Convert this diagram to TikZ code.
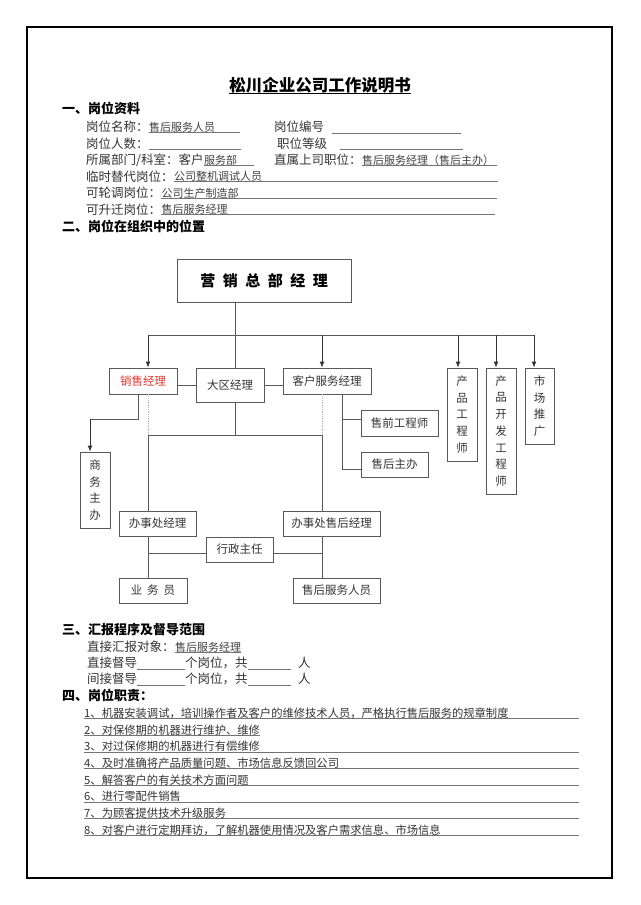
\documentclass[tikz,border=0pt]{standalone}
\usepackage{fontspec}
\setmainfont{Noto Sans CJK SC}
\usetikzlibrary{positioning,arrows.meta}
\definecolor{salesred}{RGB}{226,52,45}
\newcommand{\ttlfont}{\fontsize{16.5}{18}\selectfont\bfseries}
\newcommand{\hfont}{\fontsize{13}{15}\selectfont\bfseries}
\newcommand{\lblfont}{\fontsize{12.5}{14}\selectfont}
\newcommand{\valfont}{\fontsize{11}{13}\selectfont}
\newcommand{\dutyfont}{\fontsize{11.3}{13}\selectfont}
\newcommand{\boxfont}{\fontsize{11.5}{13}\selectfont}
\newcommand{\vboxfont}{\fontsize{11.5}{16.7}\selectfont}
\newcommand{\topfont}{\fontsize{15}{17}\selectfont\bfseries}
\tikzset{
	box/.style={draw=black!65, line width=0.8pt, inner sep=0pt, font=\boxfont, text=black!80},
	vbox/.style={box, align=center, font=\vboxfont},
	lbl/.style={anchor=west, inner sep=0pt, font=\lblfont, text=black!80},
	val/.style={inner sep=0pt, font=\valfont, text=black!75},
	hd/.style={anchor=west, inner sep=0pt, font=\hfont},
	duty/.style={anchor=west, inner sep=0pt, font=\dutyfont, text=black!80},
	uline/.style={draw=black!55, line width=0.7pt},
	conn/.style={draw=black!65, line width=0.9pt},
	arr/.style={draw=black!80, line width=0.9pt, -{Latex[length=6pt,width=5pt]}},
	faint/.style={draw=black!30, line width=0.8pt, densely dotted}
}
\begin{document}
\begin{tikzpicture}[x=1pt, y=-1pt]
	\useasboundingbox (0,0) rectangle (640,905);
	\draw[draw=black, line width=2pt] (27,27) rectangle (612,878);
	\node[inner sep=0pt, font=\ttlfont] (ttl) at (320,85) {松川企业公司工作说明书};
	\draw[draw=black, line width=1.2pt] (ttl.south west) -- (ttl.south east);
	\node[hd] (h1) at (62,108) {一、岗位资料};
	\node[lbl] (r1a) at (86,127) {岗位名称：};
	\node[val, right=0pt of r1a] (r1v) {售后服务人员};
	\node[lbl] (r1b) at (274,127) {岗位编号};
	\draw[uline] (r1v.south west) -- (r1v.south west -| 240,0);
	\draw[uline] (r1b.south -| 332,0) -- (r1b.south -| 461,0);
	\node[lbl] (r2a) at (86,143.5) {岗位人数：};
	\node[lbl] (r2b) at (277,143.5) {职位等级};
	\draw[uline] (r2a.south east) -- (r2a.south east -| 241,0);
	\draw[uline] (r2b.south -| 340,0) -- (r2b.south -| 463,0);
	\node[lbl] (r3a) at (86,160) {所属部门/科室：客户};
	\node[val, right=0pt of r3a] (r3v) {服务部};
	\draw[uline] (r3v.south west) -- (r3v.south west -| 254,0);
	\node[lbl] (r3b) at (274,160) {直属上司职位：};
	\node[val, right=0pt of r3b] (r3w) {售后服务经理（售后主办）};
	\draw[uline] (r3w.south west) -- (r3w.south west -| 497,0);
	\node[lbl] (r4a) at (86,176.5) {临时替代岗位：};
	\node[val, right=0pt of r4a] (r4v) {公司整机调试人员};
	\draw[uline] (r4v.south west) -- (r4v.south west -| 498,0);
	\node[lbl] (r5a) at (86,193) {可轮调岗位：};
	\node[val, right=0pt of r5a] (r5v) {公司生产制造部};
	\draw[uline] (r5v.south west) -- (r5v.south west -| 497,0);
	\node[lbl] (r6a) at (86,209.5) {可升迁岗位：};
	\node[val, right=0pt of r6a] (r6v) {售后服务经理};
	\draw[uline] (r6v.south west) -- (r6v.south west -| 495,0);
	\node[hd] (h2) at (62,226) {二、岗位在组织中的位置};
	\node[box, font=\topfont, text=black, minimum width=174, minimum height=43] (top) at (264,280.5) {营\hspace{.5em}销\hspace{.5em}总\hspace{.5em}部\hspace{.5em}经\hspace{.5em}理};
	\node[box, text=salesred, minimum width=68, minimum height=26] (xs) at (143,381) {销售经理};
	\node[box, minimum width=68, minimum height=34] (dq) at (230,385) {大区经理};
	\node[box, minimum width=88, minimum height=26] (kf) at (327,381) {客户服务经理};
	\node[vbox, minimum width=30, minimum height=93] (cpgc) at (462,414.5) {产\\品\\工\\程\\师};
	\node[vbox, minimum width=30, minimum height=126] (cpkf) at (501,431) {产\\品\\开\\发\\工\\程\\师};
	\node[vbox, minimum width=29, minimum height=76] (sctg) at (539.5,406) {市\\场\\推\\广};
	\node[vbox, minimum width=30, minimum height=76] (swzb) at (95,490) {商\\务\\主\\办};
	\node[box, minimum width=77, minimum height=26] (sqgc) at (399.5,423) {售前工程师};
	\node[box, minimum width=67, minimum height=25] (shzb) at (394.5,464.5) {售后主办};
	\node[box, minimum width=77, minimum height=25] (bsc) at (157.5,523.5) {办事处经理};
	\node[box, minimum width=97, minimum height=25] (bsh) at (331.5,523.5) {办事处售后经理};
	\node[box, minimum width=67, minimum height=25] (xz) at (239.5,549.5) {行政主任};
	\node[box, minimum width=68, minimum height=25] (ywy) at (153,590.5) {业\hspace{5pt}务\hspace{5pt}员};
	\node[box, minimum width=87, minimum height=25] (shry) at (336.5,590.5) {售后服务人员};
	\coordinate (bT) at (235,335);
	\coordinate (bL) at (148,335);
	\coordinate (bR) at (534,335);
	\draw[conn] (bT |- top.south) -- (bT |- dq.north);
	\draw[conn] (bL) -- (bR);
	\foreach \x/\t in {148/xs,322/kf,458/cpgc,496/cpkf,534/sctg}
		\draw[arr] (\x,335) -- (\x,335 |- \t.north);
	\draw[conn] (xs.east |- 0,385) -- (dq.west |- 0,385);
	\draw[conn] (dq.east |- 0,385) -- (kf.west |- 0,385);
	\coordinate (sA) at (138,419);
	\coordinate (sB) at (90,419);
	\draw[conn] (sA |- xs.south) -- (sA) -- (sB);
	\draw[arr] (sB) -- (sB |- swzb.north);
	\coordinate (mL) at (148,435);
	\coordinate (mC) at (235,435);
	\coordinate (mR) at (322,435);
	\draw[faint] (mL |- xs.south) -- (mL);
	\draw[faint] (mR |- kf.south) -- (mR);
	\draw[conn] (bT |- dq.south) -- (mC);
	\draw[conn] (mL) -- (mR);
	\draw[conn] (mL) -- (mL |- bsc.north);
	\draw[conn] (mR) -- (mR |- bsh.north);
	\coordinate (kA) at (342,419);
	\coordinate (kB) at (342,469);
	\draw[conn] (kA |- kf.south) -- (kB) -- (shzb.west |- kB);
	\draw[conn] (kA) -- (sqgc.west |- kA);
	\coordinate (lL) at (148,553);
	\coordinate (lR) at (322,553);
	\draw[conn] (mL |- bsc.south) -- (mL |- ywy.north);
	\draw[conn] (mR |- bsh.south) -- (mR |- shry.north);
	\draw[conn] (lL) -- (xz.west |- lL);
	\draw[conn] (xz.east |- lR) -- (lR);
	\node[hd] (h3) at (62,630) {三、汇报程序及督导范围};
	\node[lbl] (s1) at (87,647) {直接汇报对象：};
	\node[val, right=0pt of s1] (s1v) {售后服务经理};
	\draw[uline] (s1v.south west) -- (s1v.south east);
	\node[lbl] (s2) at (87,663) {直接督导};
	\node[lbl] (s2b) at (185,663) {个岗位，共};
	\node[lbl] (s2c) at (298,663) {人};
	\draw[uline] (s2.south east) -- (s2.south east -| 185,0);
	\draw[uline] (s2b.south east) -- (s2b.south east -| 291,0);
	\node[lbl] (s3) at (87,679) {间接督导};
	\node[lbl] (s3b) at (185,679) {个岗位，共};
	\node[lbl] (s3c) at (298,679) {人};
	\draw[uline] (s3.south east) -- (s3.south east -| 185,0);
	\draw[uline] (s3b.south east) -- (s3b.south east -| 291,0);
	\node[hd] (h4) at (62,695) {四、岗位职责：};
	\foreach \t [count=\i] in {1、机器安装调试，培训操作者及客户的维修技术人员，严格执行售后服务的规章制度,2、对保修期的机器进行维护、维修,3、对过保修期的机器进行有偿维修,4、及时准确将产品质量问题、市场信息反馈回公司,5、解答客户的有关技术方面问题,6、进行零配件销售,7、为顾客提供技术升级服务,8、对客户进行定期拜访，了解机器使用情况及客户需求信息、市场信息}
		\node[duty] (d\i) at (84,{713+16.7*(\i-1)}) {\t};
	\foreach \i in {1,3,4,5,6,7,8}
		\draw[uline] (d\i.south west) -- (d\i.south west -| 579,0);
	\draw[uline] (d2.south west) -- (d2.south east);
\end{tikzpicture}
\end{document}
